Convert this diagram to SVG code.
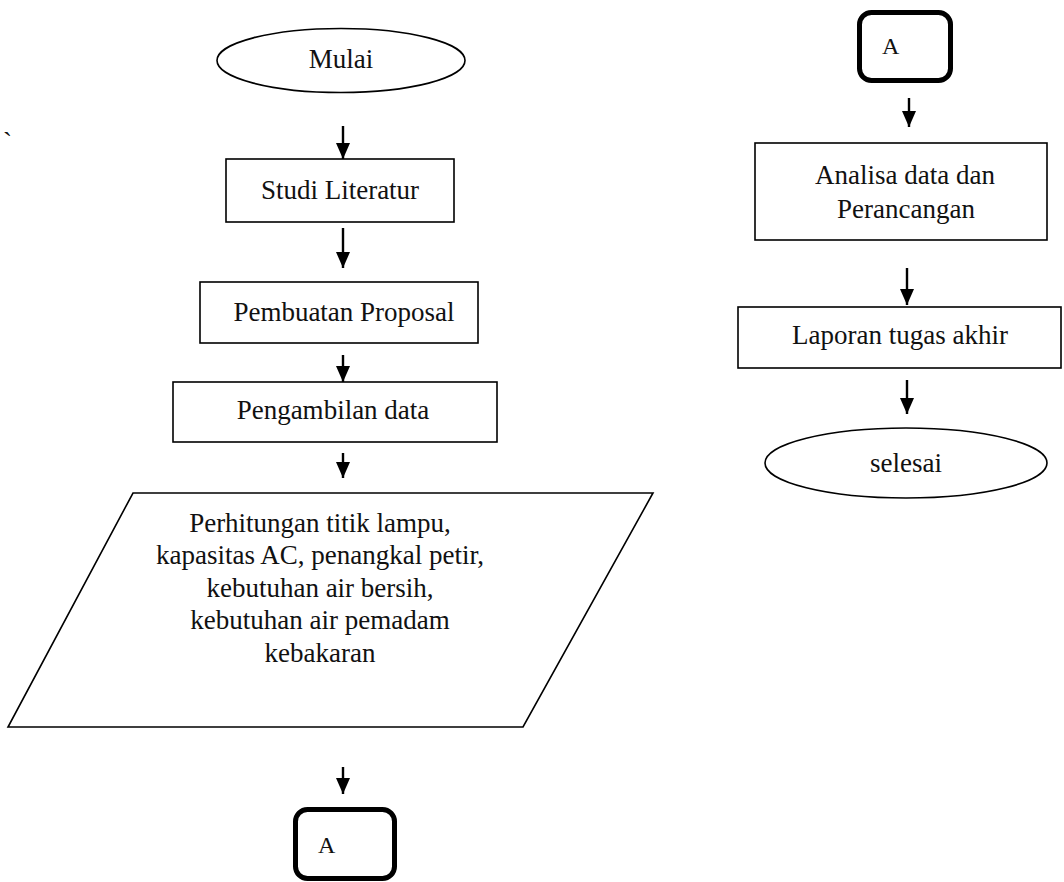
<svg xmlns="http://www.w3.org/2000/svg" width="1064" height="882" viewBox="0 0 1064 882">
<style>
.s{fill:#fff;stroke:#000;stroke-width:1.6}
.c{fill:#fff;stroke:#000;stroke-width:5}
.t{font-family:"Liberation Serif","Times New Roman",serif;font-size:27px;fill:#111;text-anchor:middle}
.ta{font-family:"Liberation Serif","Times New Roman",serif;font-size:24px;fill:#111}
.a{stroke:#000;stroke-width:2.4;fill:none;marker-end:url(#ah)}
</style>
<defs>
<marker id="ah" markerUnits="userSpaceOnUse" viewBox="0 -7 16 14" refX="16" refY="0" markerWidth="16" markerHeight="14" orient="auto">
<path d="M0,-7 L16,0 L0,7 z" fill="#000"/>
</marker>
</defs>
<rect width="1064" height="882" fill="#fff"/>
<text x="3" y="151" class="ta" style="font-size:27px">`</text>
<g id="connectors">
<line class="a" x1="343" y1="126" x2="343" y2="159"/>
<line class="a" x1="343" y1="228" x2="343" y2="268"/>
<line class="a" x1="343" y1="355" x2="343" y2="382"/>
<line class="a" x1="343" y1="453" x2="343" y2="478"/>
<line class="a" x1="343" y1="767" x2="343" y2="794"/>
<line class="a" x1="909" y1="98" x2="909" y2="127"/>
<line class="a" x1="907" y1="268" x2="907" y2="305"/>
<line class="a" x1="907" y1="380" x2="907" y2="414"/>
</g>
<g id="mulai">
<ellipse class="s" cx="341" cy="60.5" rx="124" ry="32"/>
<text class="t" x="341" y="68">Mulai</text>
</g>
<g id="studi">
<rect class="s" x="226" y="159" width="228" height="63"/>
<text class="t" x="340" y="199">Studi Literatur</text>
</g>
<g id="proposal">
<rect class="s" x="200" y="282" width="278" height="61"/>
<text class="t" x="344" y="321">Pembuatan Proposal</text>
</g>
<g id="pengambilan">
<rect class="s" x="173" y="382" width="324" height="60"/>
<text class="t" x="333" y="419">Pengambilan data</text>
</g>
<g id="perhitungan">
<polygon class="s" points="133,493 653,493 523,727 8,727"/>
<text class="t" x="320" y="532">Perhitungan titik lampu,</text>
<text class="t" x="320" y="564">kapasitas AC, penangkal petir,</text>
<text class="t" x="320" y="597">kebutuhan air bersih,</text>
<text class="t" x="320" y="629">kebutuhan air pemadam</text>
<text class="t" x="320" y="662">kebakaran</text>
</g>
<g id="connector-a-bottom">
<rect class="c" x="295.5" y="809.5" width="99" height="69" rx="12"/>
<text class="ta" x="318" y="853">A</text>
</g>
<g id="connector-a-top">
<rect class="c" x="859.5" y="12.5" width="91" height="68" rx="12"/>
<text class="ta" x="882" y="54">A</text>
</g>
<g id="analisa">
<rect class="s" x="755" y="143" width="292" height="97"/>
<text class="t" x="905" y="184">Analisa data dan</text>
<text class="t" x="906" y="218">Perancangan</text>
</g>
<g id="laporan">
<rect class="s" x="738" y="307" width="323" height="61"/>
<text class="t" x="900" y="344">Laporan tugas akhir</text>
</g>
<g id="selesai">
<ellipse class="s" cx="906" cy="463" rx="141" ry="35"/>
<text class="t" x="906" y="472">selesai</text>
</g>
</svg>
